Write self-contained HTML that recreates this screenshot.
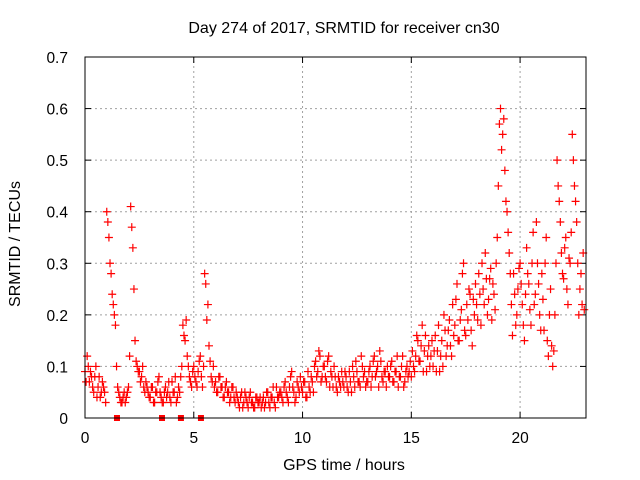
<!DOCTYPE html>
<html><head><meta charset="utf-8"><style>
body{margin:0;background:#fff}
svg{display:block;font-family:"Liberation Sans",sans-serif}
</style></head><body>
<svg id="chart" width="640" height="480" xmlns="http://www.w3.org/2000/svg">
<text x="344" y="33" font-size="16" text-anchor="middle">Day 274 of 2017, SRMTID for receiver cn30</text>
<text transform="translate(20,244) rotate(-90)" font-size="16" text-anchor="middle">SRMTID / TECUs</text>
<text x="344" y="470" font-size="16" text-anchor="middle">GPS time / hours</text>
<g id="grid"></g>
<g id="ticks"></g>
<g id="marks"></g>
<rect x="85" y="57" width="501" height="361" fill="none" stroke="#000" stroke-width="1"/>
</svg>
<script>
const xTicks=[0,5,10,15,20];
const yTicks=[0,0.1,0.2,0.3,0.4,0.5,0.6,0.7];
const yTickLabels=["0","0.1","0.2","0.3","0.4","0.5","0.6","0.7"];
const tStart=0, tStep=0.1, tStart2=0.05;
const srmtid=[
.09,.12,.07,.08,.05,.10,.06,.04,.07,.05,
.40,.35,.28,.22,.18,.06,.04,.03,.05,.04,
.06,.41,.33,.15,.10,.09,.08,.06,.07,.05,
.04,.06,.03,.05,.08,.04,.03,.06,.05,.04,
.07,.05,.03,.06,.08,.18,.15,.12,.08,.06,
.10,.07,.09,.12,.06,.28,.19,.14,.08,.10,
.07,.05,.08,.06,.04,.07,.05,.04,.06,.03,
.04,.02,.05,.03,.04,.02,.05,.03,.02,.04,
.03,.02,.04,.03,.05,.02,.04,.03,.06,.04,
.05,.03,.07,.04,.06,.09,.05,.04,.06,.08,
.05,.07,.04,.06,.08,.05,.11,.09,.12,.08,
.10,.07,.12,.09,.06,.08,.05,.07,.09,.06,
.08,.05,.07,.10,.06,.09,.07,.12,.08,.06,
.07,.10,.08,.12,.09,.06,.11,.07,.09,.10,
.08,.11,.07,.09,.06,.08,.12,.07,.10,.09,
.08,.10,.12,.15,.11,.18,.13,.09,.14,.12,
.10,.16,.13,.09,.15,.20,.12,.17,.14,.22,
.18,.26,.15,.21,.30,.16,.19,.24,.14,.20,
.22,.28,.18,.25,.32,.20,.27,.19,.24,.30,
.45,.60,.55,.48,.40,.32,.22,.28,.18,.25,
.30,.22,.15,.33,.26,.18,.36,.24,.30,.20,
.28,.17,.35,.12,.25,.10,.20,.50,.42,.32,
.27,.35,.22,.30,.55,.45,.38,.20,.28,.32];
const srmtid2=[
.07,.10,.09,.06,.08,.04,.08,.05,.06,.03,
.38,.30,.24,.20,.10,.05,.03,.04,.03,.05,
.12,.37,.25,.11,.09,.07,.10,.05,.06,.04,
.06,.03,.05,.07,.05,.03,.05,.04,.07,.03,
.05,.08,.04,.05,.10,.16,.19,.10,.07,.09,
.08,.06,.11,.08,.10,.26,.22,.11,.07,.06,
.05,.08,.06,.04,.06,.05,.03,.06,.04,.05,
.03,.04,.02,.05,.03,.04,.03,.02,.04,.03,
.04,.03,.02,.05,.03,.04,.06,.02,.04,.05,
.04,.06,.05,.03,.08,.06,.03,.07,.05,.06,
.07,.04,.09,.05,.07,.10,.08,.13,.07,.10,
.08,.11,.06,.08,.10,.06,.08,.06,.07,.09,
.06,.09,.05,.08,.11,.07,.06,.10,.09,.07,
.09,.06,.11,.08,.10,.13,.08,.09,.06,.08,
.10,.07,.09,.12,.08,.10,.06,.09,.08,.11,
.13,.09,.16,.11,.14,.09,.16,.12,.10,.15,
.13,.09,.18,.12,.10,.17,.14,.19,.12,.16,
.23,.15,.19,.28,.17,.22,.25,.17,.23,.26,
.19,.24,.30,.22,.27,.23,.29,.26,.21,.35,
.57,.52,.58,.42,.36,.28,.16,.24,.20,.29,
.26,.18,.24,.28,.21,.30,.22,.38,.26,.17,
.23,.30,.15,.20,.14,.13,.30,.45,.38,.28,
.33,.25,.31,.36,.50,.42,.30,.25,.22,.21];
const gapTimes=[1.47,3.54,4.41,5.33];
const NS="http://www.w3.org/2000/svg";
const X0=85,X1=586,Y0=418,Y1=57,XMAX=23.03,YMAX=0.7;
function xs(v){return X0+(X1-X0)*v/XMAX;}
function ys(v){return Y0-(Y0-Y1)*v/YMAX;}
function mk(tag,attrs,parent){const e=document.createElementNS(NS,tag);for(const k in attrs)e.setAttribute(k,attrs[k]);parent.appendChild(e);return e;}
const grid=document.getElementById('grid'),ticks=document.getElementById('ticks'),marks=document.getElementById('marks');
xTicks.forEach(t=>{const x=xs(t);
 if(t>0){const g=mk('line',{x1:x,x2:x,y1:Y0,y2:Y1,stroke:'#a0a0a0','stroke-dasharray':'2,3'},grid);
 
 }
 const tl=mk('text',{x:x,y:443,'font-size':15.5,'text-anchor':'middle'},ticks);tl.textContent=t;
 
 
 mk('line',{x1:x,x2:x,y1:Y0,y2:Y0-6,stroke:'#000'},ticks);
 mk('line',{x1:x,x2:x,y1:Y1,y2:Y1+6,stroke:'#000'},ticks);});
yTicks.forEach((t,i)=>{const y=ys(t);
 if(t>0&&t<YMAX){const g=mk('line',{x1:X0,x2:X1,y1:y,y2:y,stroke:'#a0a0a0','stroke-dasharray':'2,3'},grid);
 
 }
 const tl=mk('text',{x:68,y:y+6,'font-size':15.5,'text-anchor':'end'},ticks);tl.textContent=yTickLabels[i];
 
 
 mk('line',{x1:X0,x2:X0+6,y1:y,y2:y,stroke:'#000'},ticks);
 mk('line',{x1:X1,x2:X1-6,y1:y,y2:y,stroke:'#000'},ticks);});
function plotSeries(arr,start){arr.forEach((v,i)=>{const x=xs(start+i*tStep),y=ys(v);
 const p=mk('path',{d:`M${x-4},${y}H${x+4}M${x},${y-4}V${y+4}`,stroke:'#f00','stroke-width':1.2,fill:'none'},marks);
 
 });}
plotSeries(srmtid,tStart);
plotSeries(srmtid2,tStart2);
gapTimes.forEach(t=>{const x=xs(t);
 const r=mk('rect',{x:x-3,y:Y0-3,width:6,height:6,fill:'#f00'},marks);
 
 });
</script>
</body></html>
